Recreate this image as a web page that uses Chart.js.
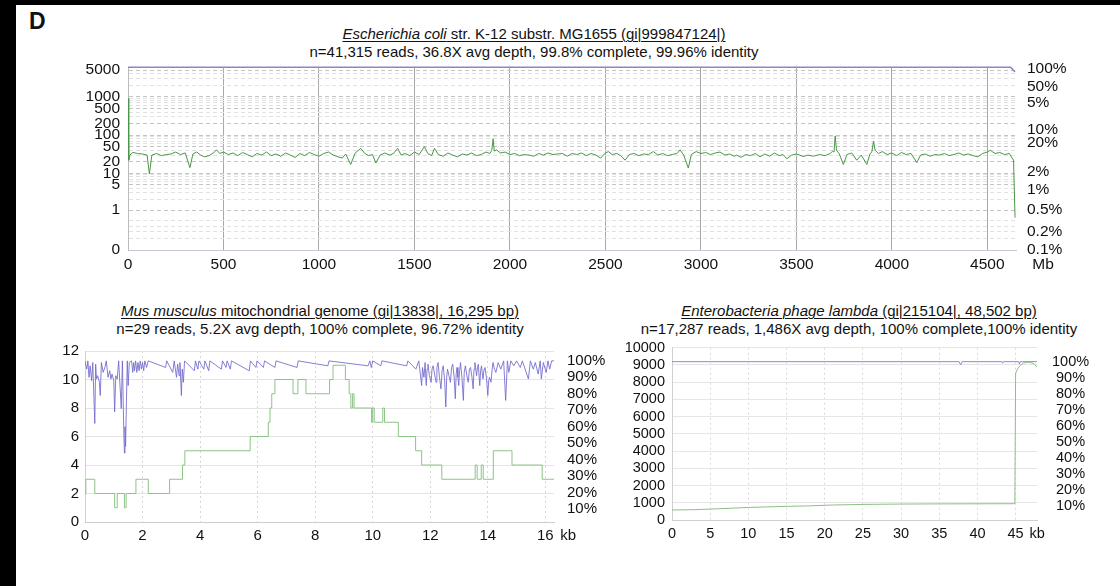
<!DOCTYPE html>
<html>
<head>
<meta charset="utf-8">
<script src="https://cdn.jsdelivr.net/npm/chart.js@4.4.1/dist/chart.umd.min.js"></script>
<style>
  html, body { margin: 0; padding: 0; width: 1120px; height: 586px; overflow: hidden; background: #000; }
  #sheet { position: absolute; left: 16px; top: 5px; right: 0; bottom: 0; background: #fff; }
  canvas { position: absolute; }
  .ttl { position: absolute; text-align: center; white-space: nowrap; color: #111;
         font-family: 'Liberation Sans', Arial, sans-serif; font-size: 15px; line-height: 18px; }
  .ttl u { text-decoration-thickness: 1px; text-underline-offset: 2px; }
  #letter { position: absolute; left: 29px; top: 8px; color: #111;
            font: bold 23px 'Liberation Sans', Arial, sans-serif; }
</style>
</head>
<body>
<div id="sheet"></div>
<div id="letter">D</div>

<div class="ttl" style="left:234px; top:25px; width:600px;">
  <u><i>Escherichia coli</i> str. K-12 substr. MG1655 (gi|999847124|)</u><br>
  n=41,315 reads, 36.8X avg depth, 99.8% complete, 99.96% identity
</div>
<div class="ttl" style="left:70px; top:302px; width:500px;">
  <u><i>Mus musculus</i> mitochondrial genome (gi|13838|, 16,295 bp)</u><br>
  n=29 reads, 5.2X avg depth, 100% complete, 96.72% identity
</div>
<div class="ttl" style="left:609px; top:302px; width:500px;">
  <u><i>Enterobacteria phage lambda</i> (gi|215104|, 48,502 bp)</u><br>
  n=17,287 reads, 1,486X avg depth, 100% complete,100% identity
</div>

<canvas id="ecoli" width="1030" height="230" style="left:60px; top:50px;"></canvas>
<canvas id="mouse" width="565" height="216" style="left:40px; top:336px;"></canvas>
<canvas id="lambda" width="485" height="218" style="left:610px; top:332px;"></canvas>

<script>
// ---- E. coli (kb, read depth) ----
const ecoliCoverage = [
  [0,900],[4,22],[10,30],[25,35],[50,33],[75,32],[100,30],[112,9.6],[125,30],[150,33],[175,29],[200,31],
  [225,32],[250,36],[275,31],[300,34],[324,14],[340,32],[360,36],[380,30],[400,27],[425,29],[450,35],
  [464,41],[480,33],[500,36],[525,31],[550,34],[575,29],[600,35],[625,31],[650,27],[675,33],[700,30],
  [725,36],[750,29],[775,32],[800,28],[825,34],[850,30],[875,26],[900,33],[925,29],[950,35],[975,31],
  [1000,28],[1025,33],[1050,36],[1075,30],[1100,27],[1122,25],[1140,32],[1166,17],[1190,34],[1219,45],
  [1240,33],[1260,29],[1280,31],[1298,18.6],[1320,30],[1345,34],[1370,30],[1390,33],[1412,45],[1430,30],
  [1450,33],[1475,29],[1500,36],[1525,31],[1552,50],[1570,33],[1590,29],[1605,45],[1625,31],[1650,28],
  [1675,34],[1700,30],[1725,27],[1750,32],[1775,30],[1800,34],[1825,29],[1850,31],[1875,36],[1895,33],
  [1905,40],[1912,80],[1918,38],[1930,41],[1950,34],[1975,36],[2000,31],[2025,33],[2050,29],[2075,31],
  [2100,30],[2125,28],[2150,33],[2175,30],[2200,34],[2225,31],[2250,32],[2275,33],[2300,28],[2325,33],
  [2350,31],[2375,34],[2400,29],[2425,33],[2450,30],[2475,25],[2500,34],[2515,37],[2535,31],[2560,33],
  [2580,29],[2603,22],[2625,31],[2650,33],[2675,29],[2700,32],[2725,31],[2751,37],[2775,30],[2800,33],
  [2825,29],[2850,31],[2875,33],[2891,41],[2910,30],[2934,13.7],[2950,31],[2975,37],[3000,33],[3025,35],
  [3050,31],[3075,34],[3100,36],[3125,30],[3150,32],[3175,28],[3188,30],[3210,26],[3235,31],[3260,29],
  [3285,33],[3310,27],[3335,32],[3360,28],[3385,34],[3410,29],[3430,31],[3450,24],[3475,30],[3500,32],
  [3537,27.5],[3560,30],[3590,28],[3620,31],[3650,29],[3677,33],[3690,38],[3697,36],[3703,95],[3710,40],
  [3725,32],[3746,17],[3765,31],[3790,34],[3816,22],[3840,30],[3869,17],[3885,32],[3895,36],[3904,70],
  [3912,40],[3930,33],[3950,37],[3975,31],[4000,34],[4025,29],[4050,35],[4075,31],[4100,33],[4131,19],
  [4150,30],[4175,32],[4200,28],[4225,31],[4250,30],[4275,33],[4300,29],[4325,31],[4350,34],[4375,30],
  [4400,32],[4425,29],[4450,27],[4475,33],[4500,36],[4515,40],[4540,33],[4565,35],[4590,31],[4615,33],
  [4630,25],[4637,22],[4645,0.6]
];
const ecoliIdentity = [[0,100],[4622,100],[4645,97.5]];
const ecoliKbTicks = [0,500,1000,1500,2000,2500,3000,3500,4000,4500];
const ecoliDepthTicks = [0,1,5,10,20,50,100,200,500,1000,5000];
const ecoliDepthMinor = [0.1,0.2,0.3,0.5,2,3,4,6,7,8,9,30,40,60,70,80,90,300,400,600,700,800,900,2000,3000,4000];
// right-hand labels as printed, listed at their height on the axis (0 = bottom, 100 = top)
const ecoliPctLabels = ['0.1%','0.2%','0.5%','1%','2%','20%','10%','5%','50%','100%'];
const ecoliPctPlaces = [0,9.8,22.1,33,42.9,58.7,66.1,80.4,89.5,99];

// ---- Mus musculus mitochondrion (kb, depth steps / identity %) ----
const mouseCoverage = [
  [0,2],[0.03,3],[0.34,2],[1.03,1],[1.12,2],[1.37,1],[1.43,2],[1.77,3],[2.2,2],[2.94,3],[3.39,4],[3.47,5],
  [5.74,6],[6.37,7],[6.43,8],[6.49,9],[6.6,10],[7.23,9],[7.4,10],[7.68,9],[8.5,10],[8.62,11],[9.05,10],
  [9.18,9],[9.24,8],[9.3,9],[9.35,8],[9.96,7],[10.0,8],[10.05,7],[10.35,8],[10.41,7],[10.89,6],[11.49,5],
  [11.7,4],[12.4,3],[13.56,4],[13.63,3],[13.77,4],[13.84,3],[14.19,5],[14.84,4],[15.89,3],[16.3,3]
];
const mouseIdentity = [
  [0,100],[0.06,95],[0.1,100],[0.14,90],[0.18,97],[0.23,88],[0.27,99],[0.34,62],[0.37,98],[0.4,89],[0.44,91],
  [0.5,87],[0.53,79],[0.57,99],[0.63,93],[0.69,96],[0.74,100],[0.8,90],[0.86,94],[0.9,89],[0.94,92],[1.0,88],
  [1.03,69],[1.07,91],[1.12,89],[1.17,100],[1.26,71],[1.3,100],[1.35,56],[1.37,44],[1.39,60],[1.41,48],
  [1.44,75],[1.47,100],[1.5,85],[1.54,99],[1.62,100],[1.66,93],[1.69,99],[1.72,94],[1.76,100],[1.8,93],
  [1.84,99],[1.88,94],[1.92,100],[1.96,95],[2.0,99],[2.04,94],[2.08,100],[2.14,96],[2.2,100],[2.8,96],
  [2.84,100],[3.05,93],[3.1,100],[3.18,90],[3.22,98],[3.27,91],[3.3,99],[3.35,79],[3.38,95],[3.42,87],
  [3.46,100],[3.8,94],[3.84,100],[3.92,95],[3.96,100],[4.13,95],[4.17,100],[4.3,94],[4.34,100],[4.74,95],
  [4.78,100],[4.9,96],[4.94,100],[5.05,95],[5.09,100],[5.71,94],[5.75,100],[5.94,96],[5.98,100],[6.2,96],
  [6.24,100],[6.6,96],[6.64,100],[7.37,96],[7.41,100],[8.44,97],[8.48,100],[9.84,97],[9.9,100],[9.95,96],
  [10.0,100],[10.28,97],[10.32,100],[11.18,97],[11.22,100],[11.5,95],[11.6,100],[11.7,85],[11.73,96],
  [11.78,90],[11.82,99],[11.86,85],[11.89,95],[11.92,98],[11.97,91],[12.03,87],[12.06,95],[12.1,97],
  [12.15,92],[12.2,87],[12.23,96],[12.27,99],[12.32,90],[12.37,83],[12.41,94],[12.45,97],[12.5,88],
  [12.54,72],[12.57,90],[12.6,95],[12.65,91],[12.7,87],[12.74,96],[12.78,98],[12.83,90],[12.87,77],
  [12.9,92],[12.93,96],[12.96,90],[12.99,85],[13.02,94],[13.05,99],[13.1,90],[13.15,76],[13.18,93],
  [13.22,97],[13.27,91],[13.32,87],[13.36,95],[13.4,96],[13.45,90],[13.49,83],[13.52,95],[13.55,99],
  [13.61,91],[13.64,96],[13.67,98],[13.72,85],[13.75,94],[13.78,97],[13.83,89],[13.87,95],[13.9,96],
  [13.95,90],[14.0,79],[14.03,88],[14.06,90],[14.11,87],[14.15,95],[14.18,99],[14.23,95],[14.28,93],
  [14.36,99],[14.45,95],[14.55,100],[14.62,76],[14.68,100],[14.73,93],[14.8,100],[14.9,97],[15.0,100],
  [15.13,96],[15.2,100],[15.41,89],[15.48,100],[15.58,95],[15.65,99],[15.75,92],[15.82,100],[15.86,89],
  [15.93,99],[16.03,93],[16.09,100],[16.15,95],[16.22,100],[16.3,100]
];
const mouseKbTicks = [0,2,4,6,8,10,12,14,16];
const mouseDepthTicks = [0,2,4,6,8,10,12];
const pctTicks = [10,20,30,40,50,60,70,80,90,100];

// ---- phage lambda (kb, depth / identity %) ----
const lambdaCoverage = [
  [0,580],[3,600],[6,650],[10,730],[14,780],[18,820],[21,870],[25,905],[30,925],[35,935],[40,940],
  [44.9,945],[45.0,8520],[45.3,8800],[45.6,8970],[46.0,9100],[46.5,9160],[47.0,9130],[47.4,9080],[47.8,8870]
];
const lambdaIdentity = [
  [0,100],[37.6,100],[37.8,98],[38.0,100],[43.2,100],[43.3,99],[43.4,100],[45.4,100],[45.5,98.5],[45.6,100],[47.8,100]
];
const lambdaKbTicks = [0,5,10,15,20,25,30,35,40,45];
const lambdaDepthTicks = [0,1000,2000,3000,4000,5000,6000,7000,8000,9000,10000];

const FAMILY = "'Liberation Sans', Arial, sans-serif";
const INK = '#111';

function fixTicks(values) {
  return axis => { axis.ticks = values.map(v => ({ value: v })); };
}
function points(pairs) {
  return pairs.map(p => ({ x: p[0], y: p[1] }));
}

// unit text ("Mb" / "kb") written after the last x tick label
const unitLabel = {
  id: 'unitLabel',
  afterDraw(chart, args, opts) {
    const xs = chart.scales.x;
    const ctx = chart.ctx;
    ctx.save();
    ctx.font = opts.size + 'px ' + FAMILY;
    ctx.fillStyle = INK;
    ctx.textAlign = 'left';
    ctx.textBaseline = 'middle';
    ctx.fillText(opts.text, xs.getPixelForValue(opts.at) + opts.dx, xs.top + xs.options.ticks.padding + opts.size * 0.6);
    ctx.restore();
  }
};

Chart.defaults.animation = false;
Chart.defaults.responsive = false;
Chart.defaults.events = [];
Chart.defaults.plugins.legend.display = false;
Chart.defaults.plugins.tooltip.enabled = false;

// ---------- E. coli ----------
const F1 = { family: FAMILY, size: 15.5 };
new Chart(document.getElementById('ecoli'), {
  type: 'line',
  data: {
    datasets: [
      { data: ecoliCoverage.map(p => ({ x: p[0], y: Math.log10(p[1] + 0.1) })),
        borderColor: '#4a974a', borderWidth: 1, pointRadius: 0, yAxisID: 'y' },
      { data: points(ecoliIdentity), borderColor: '#8a86d0', borderWidth: 1.5, pointRadius: 0,
        yAxisID: 'y1', clip: 3 }
    ]
  },
  options: {
    layout: { padding: 0 },
    plugins: { unitLabel: { text: 'Mb', at: 4500, dx: 45, size: F1.size } },
    scales: {
      x: {
        type: 'linear', min: 0, max: 4650,
        afterBuildTicks: fixTicks(ecoliKbTicks),
        afterFit: s => { s.height = 30; },
        ticks: { font: F1, color: INK, padding: 5, autoSkip: false, maxRotation: 0, callback: v => String(v) },
        grid: { color: '#a8a8a8', drawTicks: false },
        border: { color: '#c8c8d8' }
      },
      y: {
        type: 'linear', min: -1, max: 3.77,
        afterBuildTicks: fixTicks(ecoliDepthTicks.concat(ecoliDepthMinor).map(v => Math.log10(v + 0.1))),
        afterFit: s => { s.width = 68; },
        ticks: { font: F1, color: INK, padding: 8, autoSkip: false,
                 callback: (v, i) => i < ecoliDepthTicks.length ? String(ecoliDepthTicks[i]) : '' },
        grid: { drawTicks: false, color: c => c.index < ecoliDepthTicks.length ? '#c4c4c4' : '#e2e2e2' },
        border: { color: '#bbb', dash: [4, 3] }
      },
      y1: {
        type: 'linear', position: 'right', min: 0, max: 100,
        afterBuildTicks: fixTicks(ecoliPctPlaces),
        afterFit: s => { s.width = 74; },
        ticks: { font: F1, color: INK, padding: 3, autoSkip: false, callback: (v, i) => ecoliPctLabels[i] },
        grid: { display: false },
        border: { display: false }
      }
    }
  },
  plugins: [unitLabel]
});

// ---------- Mus musculus ----------
const F2 = { family: FAMILY, size: 15 };
new Chart(document.getElementById('mouse'), {
  type: 'line',
  data: {
    datasets: [
      { data: points(mouseIdentity), borderColor: 'rgba(112,104,204,0.85)', borderWidth: 1, pointRadius: 0, yAxisID: 'y1' },
      { data: points(mouseCoverage), borderColor: '#8cc486', borderWidth: 1, pointRadius: 0,
        stepped: true, yAxisID: 'y' }
    ]
  },
  options: {
    layout: { padding: 0 },
    plugins: { unitLabel: { text: 'kb', at: 16, dx: 15, size: F2.size } },
    scales: {
      x: {
        type: 'linear', min: 0, max: 16.3,
        afterBuildTicks: fixTicks(mouseKbTicks),
        afterFit: s => { s.height = 30; },
        ticks: { font: F2, color: INK, padding: 5, autoSkip: false, maxRotation: 0, callback: v => String(v) },
        grid: { color: '#d6d6d6', drawTicks: false },
        border: { color: '#cfcfcf', dash: [2, 3] }
      },
      y: {
        type: 'linear', min: 0, max: 12,
        afterBuildTicks: fixTicks(mouseDepthTicks),
        afterFit: s => { s.width = 45; },
        ticks: { font: F2, color: INK, padding: 6, autoSkip: false, callback: v => String(v) },
        grid: { color: '#e4e4e4', drawTicks: false },
        border: { color: '#d0d0d0' }
      },
      y1: {
        type: 'linear', position: 'right', min: 2.15, max: 106,
        afterBuildTicks: fixTicks(pctTicks),
        afterFit: s => { s.width = 51; },
        ticks: { font: F2, color: INK, padding: 5, autoSkip: false, callback: v => v + '%' },
        grid: { display: false },
        border: { display: false }
      }
    }
  },
  plugins: [unitLabel]
});

// ---------- phage lambda ----------
const F3 = { family: FAMILY, size: 14.5 };
new Chart(document.getElementById('lambda'), {
  type: 'line',
  data: {
    datasets: [
      { data: points(lambdaCoverage), borderColor: '#8cc084', borderWidth: 1, pointRadius: 0, yAxisID: 'y' },
      { data: points(lambdaIdentity), borderColor: '#8c89d2', borderWidth: 1, pointRadius: 0, yAxisID: 'y1' }
    ]
  },
  options: {
    layout: { padding: 0 },
    plugins: { unitLabel: { text: 'kb', at: 45, dx: 14, size: F3.size } },
    scales: {
      x: {
        type: 'linear', min: 0, max: 47.8,
        afterBuildTicks: fixTicks(lambdaKbTicks),
        afterFit: s => { s.height = 30; },
        ticks: { font: F3, color: INK, padding: 5, autoSkip: false, maxRotation: 0, callback: v => String(v) },
        grid: { color: '#dadada', drawTicks: false },
        border: { color: '#d0d0d0', dash: [2, 3] }
      },
      y: {
        type: 'linear', min: 0, max: 10000,
        afterBuildTicks: fixTicks(lambdaDepthTicks),
        afterFit: s => { s.width = 62; },
        ticks: { font: F3, color: INK, padding: 7, autoSkip: false, callback: v => String(v) },
        grid: { color: '#e6e6e6', drawTicks: false },
        border: { color: '#d0d0d0' }
      },
      y1: {
        type: 'linear', position: 'right', min: 1.3, max: 108.7,
        afterBuildTicks: fixTicks(pctTicks),
        afterFit: s => { s.width = 58; },
        ticks: { font: F3, color: INK, padding: 7, autoSkip: false, crossAlign: 'center', callback: v => v + '%' },
        grid: { display: false },
        border: { display: false }
      }
    }
  },
  plugins: [unitLabel]
});
</script>
</body>
</html>
